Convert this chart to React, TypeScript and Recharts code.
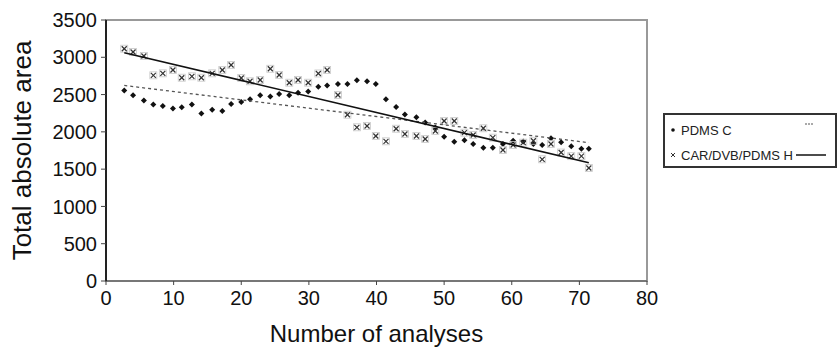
import React from 'react';
import { ScatterChart, Scatter, XAxis, YAxis, ReferenceArea } from 'recharts';

// analysis number for each measurement (shared by both fibres)
const analyses = [
  2.7, 4.0, 5.6, 7.0, 8.4, 9.9, 11.2, 12.7, 14.1, 15.7, 17.2, 18.5, 20.0, 21.3, 22.8, 24.3, 25.6,
  27.1, 28.4, 29.9, 31.4, 32.7, 34.3, 35.7, 37.1, 38.6, 39.9, 41.4, 42.9, 44.2, 45.9, 47.2, 48.7,
  50.0, 51.5, 53.0, 54.3, 55.8, 57.2, 58.7, 60.2, 61.7, 63.2, 64.5, 65.8, 67.3, 68.8, 70.3, 71.4,
];

const pdmsC = [
  2555, 2490, 2420, 2367, 2347, 2313, 2330, 2367, 2246, 2297, 2280, 2374, 2400, 2437, 2492, 2474, 2508,
  2492, 2525, 2541, 2606, 2622, 2642, 2642, 2693, 2678, 2642, 2437, 2333, 2233, 2195, 2125, 2058,
  1935, 1868, 1887, 1837, 1788, 1788, 1837, 1881, 1870, 1837, 1824, 1913, 1860, 1808, 1773, 1773,
];

const carH = [
  3115, 3071, 3017, 2758, 2785, 2830, 2726, 2745, 2726, 2785, 2830, 2897, 2722, 2678, 2695, 2846, 2762,
  2659, 2695, 2659, 2783, 2830, 2494, 2230, 2061, 2079, 1944, 1873, 2042, 1971, 1944, 1904, 2012,
  2146, 2146, 1989, 1958, 2048, 1922, 1757, 1824, 1855, 1881, 1632, 1837, 1723, 1674, 1674, 1515,
];

const xTicks = [0, 10, 20, 30, 40, 50, 60, 70, 80];
const yTicks = [0, 500, 1000, 1500, 2000, 2500, 3000, 3500];

const FONT = '"Liberation Sans", Arial, sans-serif';

const toPoints = (ys: number[]) => analyses.map((x, i) => ({ x, y: ys[i] }));

// linear trend line (least squares), like the spreadsheet trendline
const trend = (ys: number[]) => {
  const n = analyses.length;
  const mx = analyses.reduce((s, v) => s + v, 0) / n;
  const my = ys.reduce((s, v) => s + v, 0) / n;
  let sxy = 0;
  let sxx = 0;
  analyses.forEach((x, i) => {
    sxy += (x - mx) * (ys[i] - my);
    sxx += (x - mx) * (x - mx);
  });
  const b = sxy / sxx;
  const a = my - b * mx;
  const x0 = analyses[0];
  const x1 = analyses[n - 1];
  return [
    { x: x0, y: a + b * x0 },
    { x: x1, y: a + b * x1 },
  ];
};

const Diamond = (props: any) => {
  const { cx, cy } = props;
  if (cx == null || cy == null) return null;
  const r = 3;
  return <polygon points={`${cx},${cy - r} ${cx + r},${cy} ${cx},${cy + r} ${cx - r},${cy}`} fill="#111" />;
};

const Cross = (props: any) => {
  const { cx, cy } = props;
  if (cx == null || cy == null) return null;
  const r = 2.5;
  return (
    <g>
      <rect x={cx - 3.5} y={cy - 3.5} width={7} height={7} fill="none" stroke="#c8c8c8" strokeWidth={0.8} />
      <line x1={cx - r} y1={cy - r} x2={cx + r} y2={cy + r} stroke="#333" strokeWidth={1.2} />
      <line x1={cx - r} y1={cy + r} x2={cx + r} y2={cy - r} stroke="#333" strokeWidth={1.2} />
    </g>
  );
};

const NoDot = () => null;

const rowStyle: React.CSSProperties = {
  position: 'absolute',
  left: 3,
  height: 18,
  display: 'flex',
  alignItems: 'center',
  whiteSpace: 'nowrap',
  width: 166,
};

const LegendBox = () => (
  <div
    style={{
      position: 'absolute',
      left: 663,
      top: 113,
      width: 170,
      height: 51,
      border: '2px solid #333',
      background: '#fff',
      fontFamily: FONT,
      fontSize: 13,
      color: '#222',
    }}
  >
    <div style={{ ...rowStyle, top: 6 }}>
      <svg width={10} height={10}>
        <circle cx={5} cy={5} r={1.8} fill="#111" />
      </svg>
      <span style={{ marginLeft: 3 }}>PDMS C</span>
      <svg width={10} height={10} style={{ position: 'absolute', left: 137, top: 0 }}>
        <line x1={0} y1={3} x2={8} y2={3} stroke="#555" strokeWidth={1} strokeDasharray="2 1" />
      </svg>
    </div>
    <div style={{ ...rowStyle, top: 31 }}>
      <svg width={10} height={10}>
        <line x1={3} y1={3} x2={7} y2={7} stroke="#333" strokeWidth={1} />
        <line x1={3} y1={7} x2={7} y2={3} stroke="#333" strokeWidth={1} />
      </svg>
      <span style={{ marginLeft: 3 }}>CAR/DVB/PDMS H</span>
      <svg width={32} height={10} style={{ marginLeft: 3 }}>
        <line x1={0} y1={5} x2={30} y2={5} stroke="#111" strokeWidth={1.5} />
      </svg>
    </div>
  </div>
);

export default function App() {
  return (
    <div style={{ position: 'absolute', left: 0, top: 0, width: 839, height: 348, background: '#fff' }}>
      <ScatterChart width={839} height={348} margin={{ top: 20, right: 192, bottom: 0, left: 0 }}>
        <ReferenceArea x1={0} x2={80} y1={0} y2={3500} fill="none" stroke="#999" strokeWidth={2} ifOverflow="visible" />
        <XAxis
          type="number"
          dataKey="x"
          domain={[0, 80]}
          ticks={xTicks}
          interval={0}
          height={67}
          axisLine={{ stroke: '#777', strokeWidth: 2 }}
          tickLine={{ stroke: '#444' }}
          tickSize={4}
          tickMargin={6}
          tick={{ fill: '#111', fontSize: 20, fontFamily: FONT }}
          label={{ value: 'Number of analyses', position: 'insideBottom', offset: 6, fill: '#111', fontSize: 24, fontFamily: FONT }}
        />
        <YAxis
          type="number"
          dataKey="y"
          domain={[0, 3500]}
          ticks={yTicks}
          interval={0}
          width={106}
          axisLine={{ stroke: '#222', strokeWidth: 2 }}
          tickLine={{ stroke: '#444' }}
          tickSize={5}
          tickMargin={4}
          tick={{ fill: '#111', fontSize: 20, fontFamily: FONT }}
          label={{ value: 'Total absolute area', angle: -90, position: 'insideLeft', offset: 22, fill: '#111', fontSize: 26, fontFamily: FONT, style: { textAnchor: 'middle' } }}
        />
        <Scatter name="PDMS C" data={toPoints(pdmsC)} shape={<Diamond />} isAnimationActive={false} />
        <Scatter name="CAR/DVB/PDMS H" data={toPoints(carH)} shape={<Cross />} isAnimationActive={false} />
        <Scatter
          name="trend C"
          data={trend(pdmsC)}
          line={{ stroke: '#555', strokeWidth: 1.3, strokeDasharray: '3 3' }}
          shape={<NoDot />}
          isAnimationActive={false}
        />
        <Scatter
          name="trend H"
          data={trend(carH)}
          line={{ stroke: '#111', strokeWidth: 1.6 }}
          shape={<NoDot />}
          isAnimationActive={false}
        />
      </ScatterChart>
      <LegendBox />
    </div>
  );
}
